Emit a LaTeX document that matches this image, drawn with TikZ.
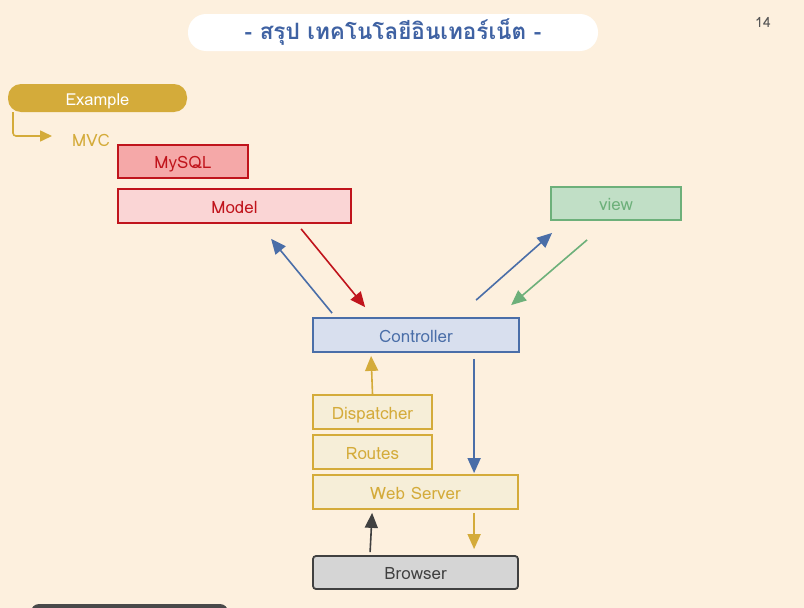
\documentclass[tikz,border=0pt]{standalone}
\usepackage{fontspec}
\setmainfont[Script=Thai]{Loma}
\usetikzlibrary{arrows.meta,calc}
\definecolor{bg}{HTML}{FDF0DE}
\definecolor{titleblue}{HTML}{3F62A3}
\definecolor{gold}{HTML}{D4AB3A}
\definecolor{goldfill}{HTML}{F6EED8}
\definecolor{redline}{HTML}{C0141C}
\definecolor{mysqlfill}{HTML}{F5A8A8}
\definecolor{modelfill}{HTML}{FAD5D5}
\definecolor{greenline}{HTML}{6DB07A}
\definecolor{viewfill}{HTML}{C1DFC6}
\definecolor{blueline}{HTML}{4A6EA8}
\definecolor{ctrlfill}{HTML}{D8DFEE}
\definecolor{greyline}{HTML}{404040}
\definecolor{greyfill}{HTML}{D5D5D5}
\definecolor{pagenum}{HTML}{555555}
\tikzset{
  txt/.style={font=\fontsize{17}{20}\selectfont, text height=16pt, text depth=2pt},
  box/.style={draw, line width=1.8pt, inner sep=0pt, anchor=center, txt},
  redbox/.style={box, draw=redline, text=redline},
  greenbox/.style={box, draw=greenline, fill=viewfill, text=greenline},
  bluebox/.style={box, draw=blueline, fill=ctrlfill, text=blueline},
  goldbox/.style={box, draw=gold, fill=goldfill, text=gold},
  greybox/.style={box, draw=greyline, fill=greyfill, text=greyline, rounded corners=3pt},
  conn/.style={line width=1.6pt, -{Triangle[length=15pt,width=13pt]}},
}
\begin{document}
\begin{tikzpicture}[x=1pt,y=-1pt]
\fill[bg] (0,0) rectangle (804,608);
\useasboundingbox (0,0) rectangle (804,608);
% title
\node[fill=white, rounded corners=18pt, minimum width=410pt, minimum height=37pt, inner sep=0pt, anchor=center,
      text=titleblue, font=\bfseries\fontsize{22.5}{27}\selectfont, text height=18pt, text depth=4pt] (title) at (393,32.5) {- สรุป เทคโนโลยีอินเทอร์เน็ต -};
\node[text=pagenum, font=\fontsize{14}{16}\selectfont, anchor=center] (page) at (763,22) {14};
% example
\node[fill=gold, rounded corners=13pt, minimum width=179pt, minimum height=28pt, inner sep=0pt, anchor=center,
      text=white, txt, font=\fontsize{16.5}{19}\selectfont] (example) at (97.5,98) {Example};
\node[text=gold, txt, anchor=center, inner sep=0pt] (mvc) at (91,139) {MVC};
\coordinate (exa) at (13,112);
\coordinate (exb) at (52,136);
\draw[gold, line width=1.6pt, rounded corners=3pt, -{Triangle[length=12pt,width=11pt]}] (exa) |- (exb);
% boxes
\node[redbox, fill=mysqlfill, minimum width=130pt, minimum height=33pt] (mysql) at (183,161.5) {MySQL};
\node[redbox, fill=modelfill, minimum width=233pt, minimum height=34pt] (model) at (234.5,206) {Model};
\node[greenbox, minimum width=130pt, minimum height=33pt] (view) at (616,203.5) {view};
\node[bluebox, minimum width=206pt, minimum height=34pt] (ctrl) at (416,335) {Controller};
\node[goldbox, minimum width=119pt, minimum height=34pt] (disp) at (372.5,412) {Dispatcher};
\node[goldbox, minimum width=119pt, minimum height=34pt] (routes) at (372.5,452) {Routes};
\node[goldbox, minimum width=205pt, minimum height=34pt] (web) at (415.5,492) {Web Server};
\node[greybox, minimum width=205pt, minimum height=33pt] (browser) at (415.5,572.5) {Browser};
% connectors
\draw[conn, blueline] ($(ctrl.north west)+(20,-4)$) -- ($(model.south west)+(154,15)$);
\draw[conn, redline] ($(model.south west)+(184,5)$) -- ($(ctrl.north west)+(53,-10)$);
\draw[conn, blueline] ($(ctrl.north west)+(164,-17)$) -- ($(view.south west)+(2,12)$);
\draw[conn, greenline] ($(view.south west)+(37,19)$) -- ($(ctrl.north west)+(199,-12)$);
\draw[conn, gold] (disp.north) -- ($(ctrl.south west)+(59,3)$);
\draw[conn, blueline] ($(ctrl.south west)+(162,6)$) -- ($(web.north west)+(162,-1)$);
\draw[conn, greyline] ($(browser.north west)+(58,-3)$) -- ($(web.south west)+(60,3)$);
\draw[conn, gold] ($(web.south west)+(162,3)$) -- ($(browser.north west)+(162,-6)$);
% bottom-left dark shape
\fill[greyline!95] (31,620) -- (31,612) arc (180:270:8) -- (220,604) arc (270:360:8) -- (228,620) -- cycle;
\end{tikzpicture}
\end{document}
